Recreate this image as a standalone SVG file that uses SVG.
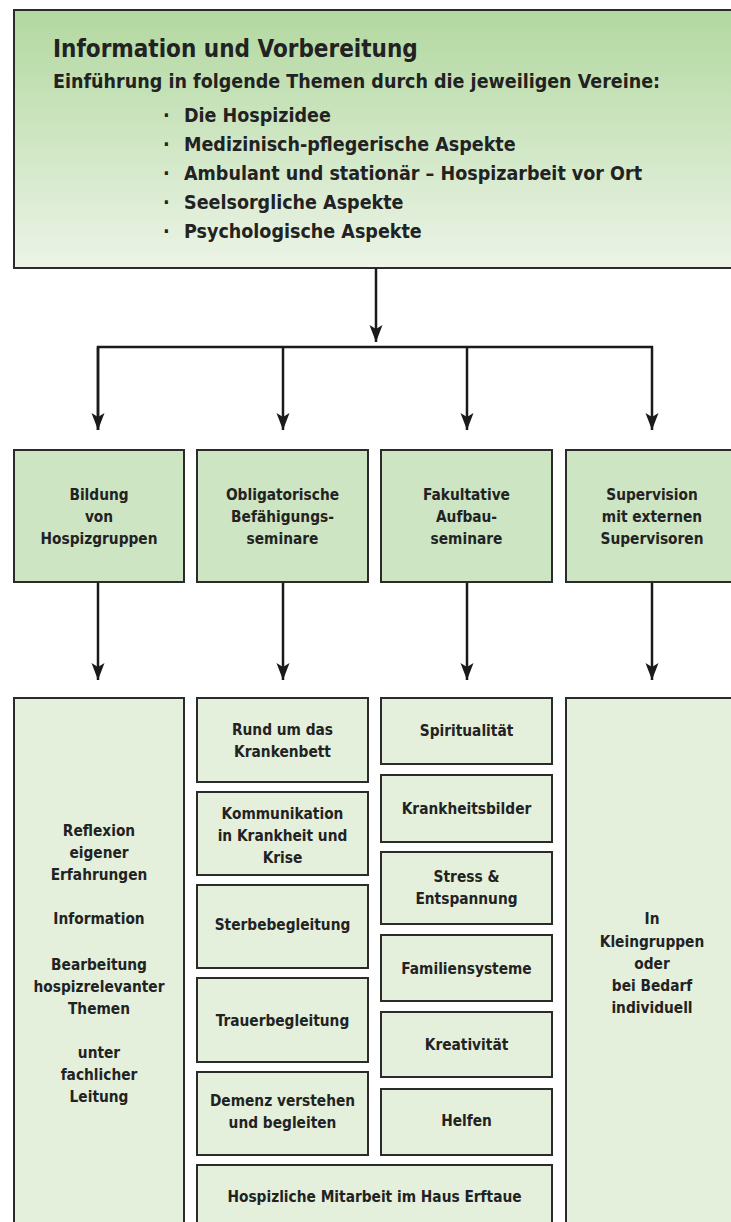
<svg xmlns="http://www.w3.org/2000/svg" width="731" height="1222" viewBox="0 0 731 1222">
<defs>
<linearGradient id="topgrad" x1="0" y1="0" x2="0" y2="1">
<stop offset="0" stop-color="#b2d8a0"/>
<stop offset="1" stop-color="#ecf4e7"/>
</linearGradient>
<marker id="ah" markerUnits="userSpaceOnUse" markerWidth="20" markerHeight="16" viewBox="-18 -8 20 16" refX="0" refY="0" orient="auto">
<path d="M0,0 L-17,-6.5 L-13,0 L-17,6.5 Z" fill="#1a1a1a"/>
</marker>
<style>
text{font-family:"DejaVu Sans Condensed","DejaVu Sans",sans-serif;font-weight:bold;fill:#222;}
.t{font-size:24px;}
.s{font-size:19.5px;}
.d{font-size:19.5px;}
.b{font-size:15.3px;text-anchor:middle;}
.box2{fill:#cde5c3;stroke:#2b2b2b;stroke-width:2;}
.box3{fill:#e4f0dc;stroke:#2b2b2b;stroke-width:2;}
.ln{fill:none;stroke:#1a1a1a;stroke-width:2.5;}
</style>
</defs>
<rect width="731" height="1222" fill="#ffffff"/>
<g id="top">
<rect x="14" y="10" width="725" height="258" fill="url(#topgrad)" stroke="#2b2b2b" stroke-width="2"/>
<text class="t" x="53" y="57">Information und Vorbereitung</text>
<text class="s" x="53" y="88">Einführung in folgende Themen durch die jeweiligen Vereine:</text>
<text class="d" x="163" y="122">·</text><text class="s" x="184" y="122">Die Hospizidee</text>
<text class="d" x="163" y="151">·</text><text class="s" x="184" y="151">Medizinisch-pflegerische Aspekte</text>
<text class="d" x="163" y="180">·</text><text class="s" x="184" y="180">Ambulant und stationär – Hospizarbeit vor Ort</text>
<text class="d" x="163" y="209">·</text><text class="s" x="184" y="209">Seelsorgliche Aspekte</text>
<text class="d" x="163" y="238">·</text><text class="s" x="184" y="238">Psychologische Aspekte</text>
</g>
<g id="connectors">
<line class="ln" x1="376" y1="268" x2="376" y2="342" marker-end="url(#ah)"/>
<polyline class="ln" points="98,430 98,347 652,347 652,430" stroke-width="3" marker-end="url(#ah)"/>
<line class="ln" x1="98" y1="347" x2="98" y2="430" marker-end="url(#ah)"/>
<line class="ln" x1="283" y1="347" x2="283" y2="430" marker-end="url(#ah)"/>
<line class="ln" x1="467" y1="347" x2="467" y2="430" marker-end="url(#ah)"/>
<line class="ln" x1="98" y1="582" x2="98" y2="680" marker-end="url(#ah)"/>
<line class="ln" x1="283" y1="582" x2="283" y2="680" marker-end="url(#ah)"/>
<line class="ln" x1="467" y1="582" x2="467" y2="680" marker-end="url(#ah)"/>
<line class="ln" x1="652" y1="582" x2="652" y2="680" marker-end="url(#ah)"/>
</g>
<g id="bildung">
<rect class="box2" x="14" y="450" width="170" height="132"/>
<text class="b" x="99" y="500">Bildung</text>
<text class="b" x="99" y="522">von</text>
<text class="b" x="99" y="544">Hospizgruppen</text>
</g>
<g id="obligatorisch">
<rect class="box2" x="197" y="450" width="171" height="132"/>
<text class="b" x="282.5" y="500">Obligatorische</text>
<text class="b" x="282.5" y="522">Befähigungs-</text>
<text class="b" x="282.5" y="544">seminare</text>
</g>
<g id="fakultativ">
<rect class="box2" x="381" y="450" width="171" height="132"/>
<text class="b" x="466.5" y="500">Fakultative</text>
<text class="b" x="466.5" y="522">Aufbau-</text>
<text class="b" x="466.5" y="544">seminare</text>
</g>
<g id="supervision">
<rect class="box2" x="566" y="450" width="175" height="132"/>
<text class="b" x="652" y="500">Supervision</text>
<text class="b" x="652" y="522">mit externen</text>
<text class="b" x="652" y="544">Supervisoren</text>
</g>
<g id="reflexion">
<rect class="box3" x="14" y="698" width="170" height="540"/>
<text class="b" x="99" y="836">Reflexion</text>
<text class="b" x="99" y="858">eigener</text>
<text class="b" x="99" y="880">Erfahrungen</text>
<text class="b" x="99" y="924">Information</text>
<text class="b" x="99" y="970">Bearbeitung</text>
<text class="b" x="99" y="992">hospizrelevanter</text>
<text class="b" x="99" y="1014">Themen</text>
<text class="b" x="99" y="1058">unter</text>
<text class="b" x="99" y="1080">fachlicher</text>
<text class="b" x="99" y="1102">Leitung</text>
</g>
<g id="rund">
<rect class="box3" x="197" y="698" width="171" height="84"/>
<text class="b" x="282.5" y="735">Rund um das</text>
<text class="b" x="282.5" y="757">Krankenbett</text>
</g>
<g id="kommunikation">
<rect class="box3" x="197" y="792" width="171" height="83"/>
<text class="b" x="282.5" y="819">Kommunikation</text>
<text class="b" x="282.5" y="841">in Krankheit und</text>
<text class="b" x="282.5" y="863">Krise</text>
</g>
<g id="sterbe">
<rect class="box3" x="197" y="885" width="171" height="83"/>
<text class="b" x="282.5" y="930">Sterbebegleitung</text>
</g>
<g id="trauer">
<rect class="box3" x="197" y="978" width="171" height="84"/>
<text class="b" x="282.5" y="1026">Trauerbegleitung</text>
</g>
<g id="demenz">
<rect class="box3" x="197" y="1072" width="171" height="83"/>
<text class="b" x="282.5" y="1106">Demenz verstehen</text>
<text class="b" x="282.5" y="1128">und begleiten</text>
</g>
<g id="hospizliche">
<rect class="box3" x="197" y="1165" width="355" height="73"/>
<text class="b" x="374.5" y="1202">Hospizliche Mitarbeit im Haus Erftaue</text>
</g>
<g id="spiritualitaet">
<rect class="box3" x="381" y="698" width="171" height="66"/>
<text class="b" x="466.5" y="736">Spiritualität</text>
</g>
<g id="krankheitsbilder">
<rect class="box3" x="381" y="775" width="171" height="67"/>
<text class="b" x="466.5" y="814">Krankheitsbilder</text>
</g>
<g id="stress">
<rect class="box3" x="381" y="852" width="171" height="72"/>
<text class="b" x="466.5" y="882">Stress &amp;</text>
<text class="b" x="466.5" y="904">Entspannung</text>
</g>
<g id="familien">
<rect class="box3" x="381" y="935" width="171" height="66"/>
<text class="b" x="466.5" y="974">Familiensysteme</text>
</g>
<g id="kreativitaet">
<rect class="box3" x="381" y="1012" width="171" height="65"/>
<text class="b" x="466.5" y="1050">Kreativität</text>
</g>
<g id="helfen">
<rect class="box3" x="381" y="1089" width="171" height="66"/>
<text class="b" x="466.5" y="1126">Helfen</text>
</g>
<g id="kleingruppen">
<rect class="box3" x="566" y="698" width="175" height="540"/>
<text class="b" x="652" y="924">In</text>
<text class="b" x="652" y="947">Kleingruppen</text>
<text class="b" x="652" y="969">oder</text>
<text class="b" x="652" y="991">bei Bedarf</text>
<text class="b" x="652" y="1013">individuell</text>
</g>
</svg>
